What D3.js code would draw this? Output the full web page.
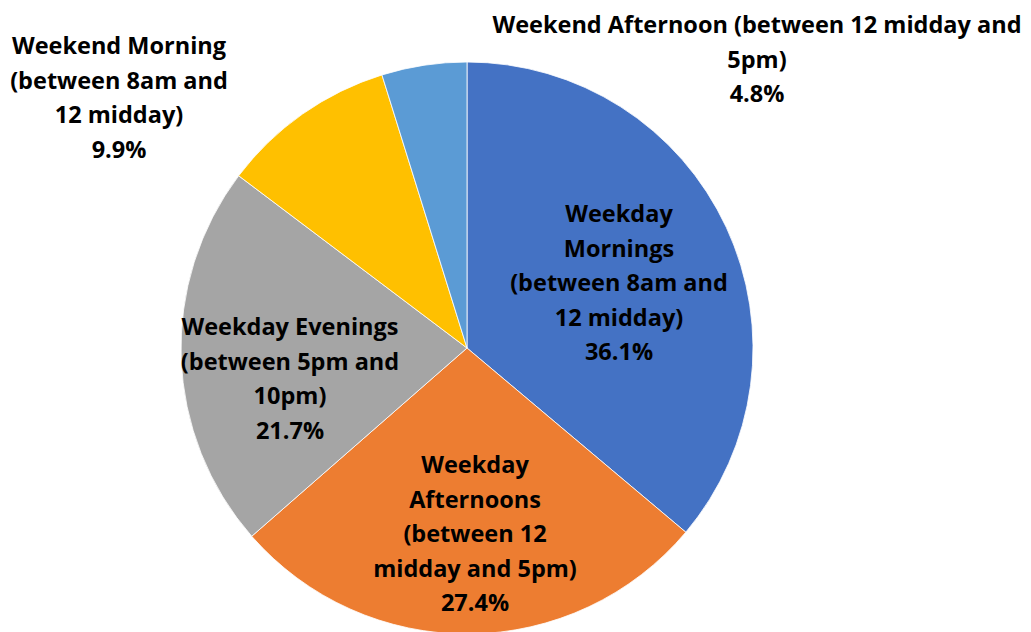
<!DOCTYPE html>
<html><head><meta charset="utf-8">
<script src="https://cdn.jsdelivr.net/npm/d3@7"></script>
<style>body{margin:0;background:#fff;}svg{display:block;}</style>
</head><body>
<svg id="chart" width="1031" height="632"></svg>
<script>
const categories = ["Weekday Mornings (between 8am and 12 midday)","Weekday Afternoons (between 12 midday and 5pm)","Weekday Evenings (between 5pm and 10pm)","Weekend Morning (between 8am and 12 midday)","Weekend Afternoon (between 12 midday and 5pm)"];
const values = [36.1, 27.4, 21.7, 9.9, 4.8];
const valueLabels = ["36.1%","27.4%","21.7%","9.9%","4.8%"];
const labelLines = [
  ["Weekday","Mornings","(between 8am and","12 midday)"],
  ["Weekday","Afternoons","(between 12","midday and 5pm)"],
  ["Weekday Evenings","(between 5pm and","10pm)"],
  ["Weekend Morning","(between 8am and","12 midday)"],
  ["Weekend Afternoon (between 12 midday and","5pm)"]
];
const colors = ["#4472C4","#ED7D31","#A5A5A5","#FFC000","#5B9BD5"];

const svg = d3.select("#chart");
const cx = 467, cy = 348, r = 286;
const g = svg.append("g").attr("transform",`translate(${cx},${cy})`);
const pie = d3.pie().sort(null).value(d=>d)(values);
const arc = d3.arc().innerRadius(0).outerRadius(r);
g.selectAll("path").data(pie).join("path")
  .attr("d",arc).attr("fill",(d,i)=>colors[i])
  .attr("stroke","#fff").attr("stroke-width",0.8);

const labelPos = [[619,222],[475,473],[290,335],[119,54],[757,33]];
const lh = 34.5;
labelPos.forEach((p,i)=>{
  const lines = labelLines[i].concat([valueLabels[i]]);
  const t = svg.append("text").attr("text-anchor","middle")
    .attr("font-family","'Open Sans', Lato, sans-serif").attr("font-weight","700")
    .attr("font-size",23.5).attr("fill","#000");
  lines.forEach((l,j)=>t.append("tspan").attr("x",p[0]).attr("y",p[1]+j*lh).text(l));
});
</script>
</body></html>
